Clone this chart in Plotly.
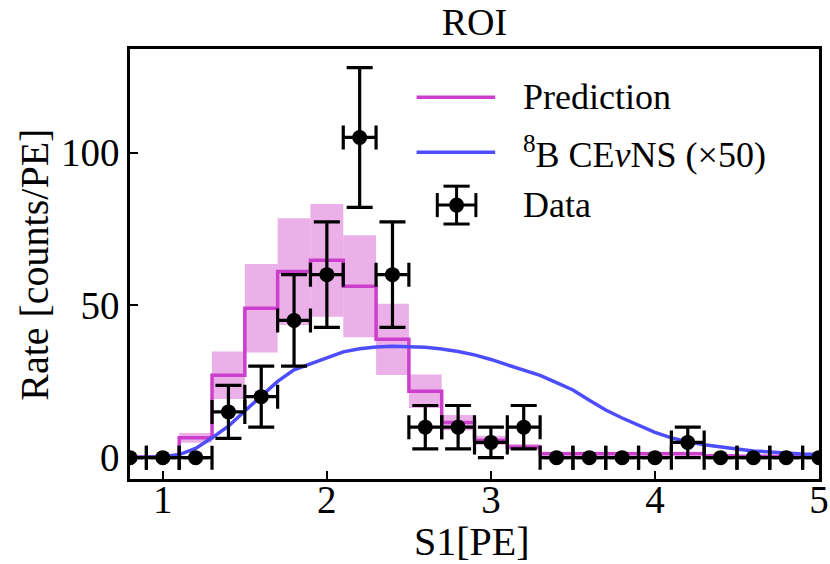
import plotly.graph_objects as go

# ---- measured spectrum (bin centres, 0.2 PE bins) ----
s1_centers = [0.8, 1.0, 1.2, 1.4, 1.6, 1.8, 2.0, 2.2, 2.4, 2.6, 2.8,
              3.0, 3.2, 3.4, 3.6, 3.8, 4.0, 4.2, 4.4, 4.6, 4.8, 5.0]
data_rate = [0, 0, 0, 15, 20, 45, 60, 105, 60, 10, 10,
             5, 10, 0, 0, 0, 0, 5, 0, 0, 0, 0]
data_err = [0, 0, 0, 8.7, 10, 15, 17.3, 22.9, 17.3, 7.1, 7.1,
            5, 7.1, 0, 0, 0, 0, 5, 0, 0, 0, 0]
bin_half_width = 0.1

# ---- background prediction and its uncertainty per bin ----
pred_rate = [0.2, 0.3, 6.5, 27.0, 49.0, 61.0, 64.7, 56.2, 38.8, 21.8, 11.5,
             5.7, 3.5, 1.3, 1.3, 1.3, 1.3, 1.3, 0.6, 0.5, 0.5, 0.5]
pred_err = [0.2, 0.3, 1.6, 7.8, 14.5, 17.5, 18.5, 16.7, 11.7, 5.5, 2.5,
            1.5, 1.0, 0.6, 0.6, 0.6, 0.6, 0.6, 0.4, 0.4, 0.4, 0.4]

# ---- 8B CEvNS signal, scaled by 50 ----
cevns_s1 = [0.8, 0.9, 1.0, 1.1, 1.2, 1.3, 1.4, 1.5, 1.6, 1.7, 1.8, 1.9,
            2.0, 2.1, 2.2, 2.3, 2.4, 2.5, 2.6, 2.7, 2.8, 2.9, 3.0, 3.1,
            3.2, 3.3, 3.4, 3.5, 3.6, 3.7, 3.8, 3.9, 4.0, 4.1, 4.2, 4.3,
            4.4, 4.5, 4.6, 4.7, 4.8, 4.9, 5.0]
cevns_rate = [0.0, 0.1, 0.3, 1.0, 3.0, 6.5, 10.3, 15.3, 20.0, 25.0, 28.8, 30.8,
              33.0, 34.7, 35.7, 36.3, 36.5, 36.4, 36.2, 35.6, 34.8, 33.7, 32.2, 30.4,
              28.8, 27.0, 24.6, 22.2, 18.8, 15.6, 13.0, 10.5, 8.3, 6.5, 5.2, 4.2,
              3.4, 2.8, 2.2, 1.8, 1.4, 1.2, 1.0]

FONT = "'Liberation Serif', 'Times New Roman', Times, 'DejaVu Serif', serif"
PRED_COLOR = "#cc3fcc"
BAND_COLOR = "rgba(218,112,214,0.55)"
CEVNS_COLOR = "#4d4dff"

fig = go.Figure()

# uncertainty band on the prediction: one box per bin
fig.add_trace(go.Bar(
    x=s1_centers,
    y=[2 * e for e in pred_err],
    base=[p - e for p, e in zip(pred_rate, pred_err)],
    width=2 * bin_half_width,
    marker=dict(color=BAND_COLOR, line=dict(width=0)),
    showlegend=False,
    hoverinfo="skip",
))

# prediction as a step histogram
fig.add_trace(go.Scatter(
    x=s1_centers, y=pred_rate, mode="lines", line_shape="hvh",
    line=dict(color=PRED_COLOR, width=3.5),
    name="Prediction", showlegend=False,
))

# signal curve
fig.add_trace(go.Scatter(
    x=cevns_s1, y=cevns_rate, mode="lines",
    line=dict(color=CEVNS_COLOR, width=3.5),
    name="CEvNS", showlegend=False,
))

# measured points
fig.add_trace(go.Scatter(
    x=s1_centers, y=data_rate, mode="markers",
    marker=dict(color="black", size=15),
    error_x=dict(type="constant", value=bin_half_width, color="black",
                 thickness=3.2, width=12),
    error_y=dict(type="data", array=data_err, color="black",
                 thickness=3.2, width=13),
    name="Data", showlegend=False,
))

# ---- hand-placed legend (paper coordinates) ----
legend_text_x = 0.568
rows = [0.888, 0.760, 0.637]
shapes = [
    dict(type="line", xref="paper", yref="paper", x0=0.416, x1=0.530,
         y0=rows[0], y1=rows[0], line=dict(color=PRED_COLOR, width=3.5)),
    dict(type="line", xref="paper", yref="paper", x0=0.416, x1=0.530,
         y0=rows[1], y1=rows[1], line=dict(color=CEVNS_COLOR, width=3.5)),
]
cx, cy = 0.474, rows[2]
dx, dy = 0.028, 0.044
cap_x, cap_y = 0.019, 0.028
line_k = dict(color="black", width=3)
shapes += [
    dict(type="line", xref="paper", yref="paper", x0=cx - dx, x1=cx + dx, y0=cy, y1=cy, line=line_k),
    dict(type="line", xref="paper", yref="paper", x0=cx, x1=cx, y0=cy - dy, y1=cy + dy, line=line_k),
    dict(type="line", xref="paper", yref="paper", x0=cx - dx, x1=cx - dx, y0=cy - cap_y, y1=cy + cap_y, line=line_k),
    dict(type="line", xref="paper", yref="paper", x0=cx + dx, x1=cx + dx, y0=cy - cap_y, y1=cy + cap_y, line=line_k),
    dict(type="line", xref="paper", yref="paper", x0=cx - cap_x, x1=cx + cap_x, y0=cy - dy, y1=cy - dy, line=line_k),
    dict(type="line", xref="paper", yref="paper", x0=cx - cap_x, x1=cx + cap_x, y0=cy + dy, y1=cy + dy, line=line_k),
    dict(type="circle", xref="paper", yref="paper", x0=cx - 0.0109, x1=cx + 0.0109,
         y0=cy - 0.0174, y1=cy + 0.0174, fillcolor="black", line=dict(color="black", width=0)),
]
legend_labels = ["Prediction", "<sup>8</sup>B CE<i>ν</i>NS (×50)", "Data"]
annotations = [
    dict(xref="paper", yref="paper", x=legend_text_x, y=y, text=t, showarrow=False,
         xanchor="left", yanchor="middle", font=dict(family=FONT, size=36, color="black"))
    for t, y in zip(legend_labels, rows)
]

# axis titles
annotations += [
    dict(xref="paper", yref="paper", x=0.497, y=-0.146, text="S1[PE]", showarrow=False,
         xanchor="center", yanchor="middle", font=dict(family=FONT, size=40, color="black")),
    dict(xref="paper", yref="paper", x=-0.138, y=0.498, text="Rate [counts/PE]", showarrow=False,
         textangle=-90, xanchor="center", yanchor="middle",
         font=dict(family=FONT, size=40, color="black")),
]

axis_common = dict(
    showline=True, linecolor="black", linewidth=2.5, mirror=True,
    ticks="inside", ticklen=8, tickwidth=2, tickcolor="black",
    showgrid=False, zeroline=False, automargin=False,
    tickfont=dict(family=FONT, size=39, color="black"),
)

fig.update_layout(
    width=830, height=564,
    margin=dict(l=130, r=11, t=49, b=85),
    paper_bgcolor="white", plot_bgcolor="white",
    barmode="overlay",
    font=dict(family=FONT, color="black"),
    title=dict(text="ROI", x=0.5, xref="paper", y=0.962, yanchor="middle",
               font=dict(family=FONT, size=38, color="black")),
    xaxis=dict(range=[0.8, 5.0], tickvals=[1, 2, 3, 4, 5], ticklabelstandoff=-16,
               **axis_common),
    yaxis=dict(range=[-7, 134], tickvals=[0, 50, 100],
               **axis_common),
    shapes=shapes,
    annotations=annotations,
    showlegend=False,
)

fig.write_html("out.html")
